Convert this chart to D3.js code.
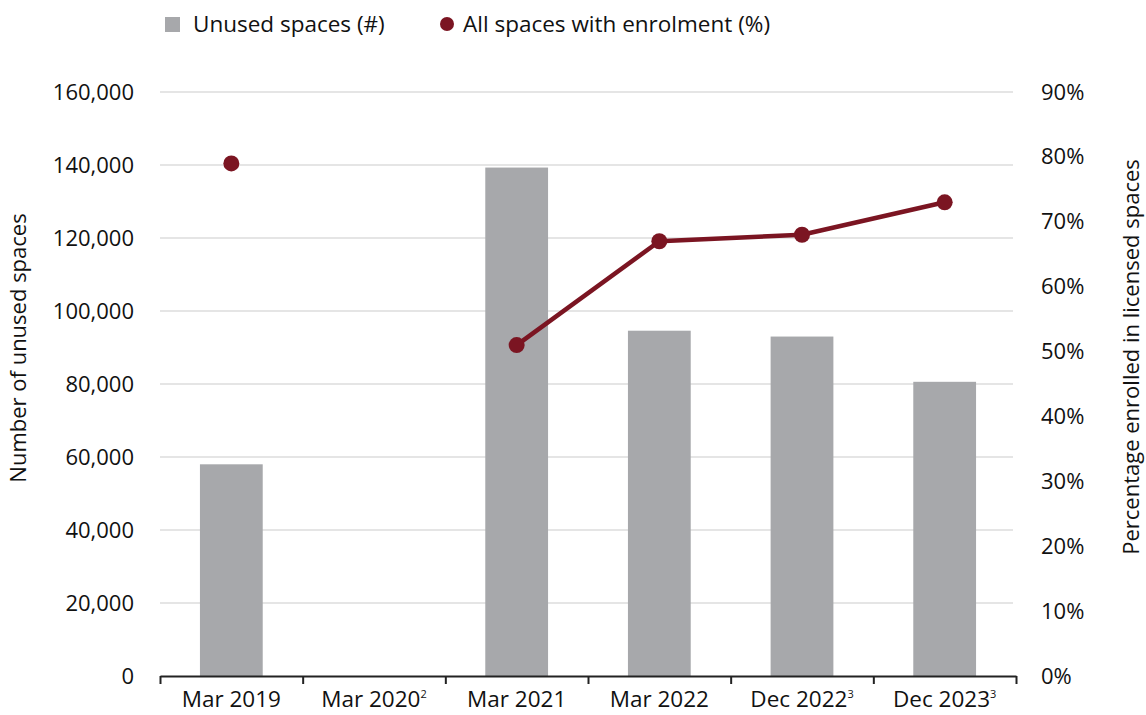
<!DOCTYPE html>
<html>
<head>
<meta charset="utf-8">
<script src="https://cdn.jsdelivr.net/npm/d3@7"></script>
<style>
  body { margin: 0; background: #fff; }
  text { font-family: "Open Sans", "Noto Sans", sans-serif; fill: #111; }
</style>
</head>
<body>
<div id="chart"></div>
<script>
// chart data
var categories = ["Mar 2019", "Mar 2020", "Mar 2021", "Mar 2022", "Dec 2022", "Dec 2023"];
var footnotes = ["", "2", "", "", "3", "3"];
var unusedSpaces = [58000, null, 139300, 94600, 93000, 80600];
var enrolledPct = [79, null, 51, 67, 68, 73];
var leftTicks = [0, 20000, 40000, 60000, 80000, 100000, 120000, 140000, 160000];
var rightTicks = [0, 10, 20, 30, 40, 50, 60, 70, 80, 90];

var svgWidth = 1146;
var svgHeight = 715;

var plot = { left: 160, right: 1016, top: 92, bottom: 676 };

var barColor = "#a7a8ab";
var lineColor = "#7b1522";

var svg = d3.select("#chart")
  .append("svg")
  .attr("width", svgWidth)
  .attr("height", svgHeight);

var rows = categories.map(function(c, i) {
  return { cat: c, note: footnotes[i], unused: unusedSpaces[i], pct: enrolledPct[i] };
});

// scales
var x = d3.scaleBand()
  .domain(categories)
  .range([plot.left, plot.right])
  .paddingInner(0.56)
  .paddingOuter(0.28);

var yLeft = d3.scaleLinear()
  .domain([0, 160000])
  .range([plot.bottom, plot.top]);

var yRight = d3.scaleLinear()
  .domain([0, 90])
  .range([plot.bottom, plot.top]);

// gridlines
svg.append("g")
  .selectAll("line")
  .data(leftTicks.filter(function(d) { return d > 0; }))
  .enter()
  .append("line")
  .attr("x1", plot.left)
  .attr("x2", plot.right - 3)
  .attr("y1", function(d) { return yLeft(d); })
  .attr("y2", function(d) { return yLeft(d); })
  .attr("stroke", "#dcdcdc")
  .attr("stroke-width", 1.3);

// bars
svg.append("g")
  .selectAll("rect")
  .data(rows.filter(function(d) { return d.unused != null; }))
  .enter()
  .append("rect")
  .attr("x", function(d) { return x(d.cat); })
  .attr("width", x.bandwidth())
  .attr("y", function(d) { return yLeft(d.unused); })
  .attr("height", function(d) { return plot.bottom - yLeft(d.unused); })
  .attr("fill", barColor);

// left axis labels
var leftAxis = d3.axisLeft(yLeft)
  .tickValues(leftTicks)
  .tickFormat(d3.format(","))
  .tickSize(0)
  .tickPadding(26);

svg.append("g")
  .attr("transform", "translate(" + plot.left + ",0)")
  .call(leftAxis)
  .call(function(g) { g.select(".domain").remove(); })
  .selectAll("text")
  .style("font-family", "'Open Sans', sans-serif")
  .style("font-size", "22px")
  .attr("fill", "#111");

// right axis labels
var rightAxis = d3.axisRight(yRight)
  .tickValues(rightTicks)
  .tickFormat(function(d) { return d + "%"; })
  .tickSize(0)
  .tickPadding(25);

svg.append("g")
  .attr("transform", "translate(" + plot.right + ",0)")
  .call(rightAxis)
  .call(function(g) { g.select(".domain").remove(); })
  .selectAll("text")
  .style("font-family", "'Open Sans', sans-serif")
  .style("font-size", "22px")
  .attr("fill", "#111");

// bottom axis with ticks at category boundaries
var boundary = d3.scaleLinear()
  .domain([0, categories.length])
  .range([plot.left, plot.right]);

svg.append("g")
  .attr("transform", "translate(0," + plot.bottom + ")")
  .call(d3.axisBottom(boundary)
    .tickValues(d3.range(categories.length + 1))
    .tickFormat("")
    .tickSize(8)
    .tickSizeOuter(0))
  .call(function(g) {
    g.select(".domain").attr("stroke", "#222").attr("stroke-width", 2);
    g.selectAll(".tick line").attr("stroke", "#222").attr("stroke-width", 2);
  });

// category labels
var catLabels = svg.append("g")
  .selectAll("text")
  .data(rows)
  .enter()
  .append("text")
  .attr("x", function(d) { return x(d.cat) + x.bandwidth() / 2; })
  .attr("y", 707)
  .attr("text-anchor", "middle")
  .style("font-size", "22.5px");

catLabels.append("tspan").text(function(d) { return d.cat; });
catLabels.append("tspan")
  .attr("dy", -9)
  .style("font-size", "11px")
  .text(function(d) { return d.note; });

// enrolment line, broken where the value is missing
var line = d3.line()
  .defined(function(d) { return d.pct != null; })
  .x(function(d) { return x(d.cat) + x.bandwidth() / 2; })
  .y(function(d) { return yRight(d.pct); });

svg.append("path")
  .datum(rows)
  .attr("d", line)
  .attr("fill", "none")
  .attr("stroke", lineColor)
  .attr("stroke-width", 4.5)
  .attr("stroke-linejoin", "round");

svg.append("g")
  .selectAll("circle")
  .data(rows.filter(function(d) { return d.pct != null; }))
  .enter()
  .append("circle")
  .attr("cx", function(d) { return x(d.cat) + x.bandwidth() / 2; })
  .attr("cy", function(d) { return yRight(d.pct); })
  .attr("r", 8)
  .attr("fill", lineColor);

// axis titles
svg.append("text")
  .attr("transform", "translate(26,348) rotate(-90)")
  .attr("text-anchor", "middle")
  .style("font-size", "22px")
  .text("Number of unused spaces");

svg.append("text")
  .attr("transform", "translate(1139,357) rotate(-90)")
  .attr("text-anchor", "middle")
  .style("font-size", "22px")
  .text("Percentage enrolled in licensed spaces");

// legend
var legend = svg.append("g");
legend.append("rect")
  .attr("x", 165).attr("y", 17)
  .attr("width", 15).attr("height", 15)
  .attr("fill", barColor);
legend.append("text")
  .attr("x", 193).attr("y", 32)
  .style("font-size", "22.5px")
  .text("Unused spaces (#)");
legend.append("circle")
  .attr("cx", 447).attr("cy", 24)
  .attr("r", 7)
  .attr("fill", lineColor);
legend.append("text")
  .attr("x", 463).attr("y", 32)
  .style("font-size", "22.5px")
  .text("All spaces with enrolment (%)");
</script>
</body>
</html>
